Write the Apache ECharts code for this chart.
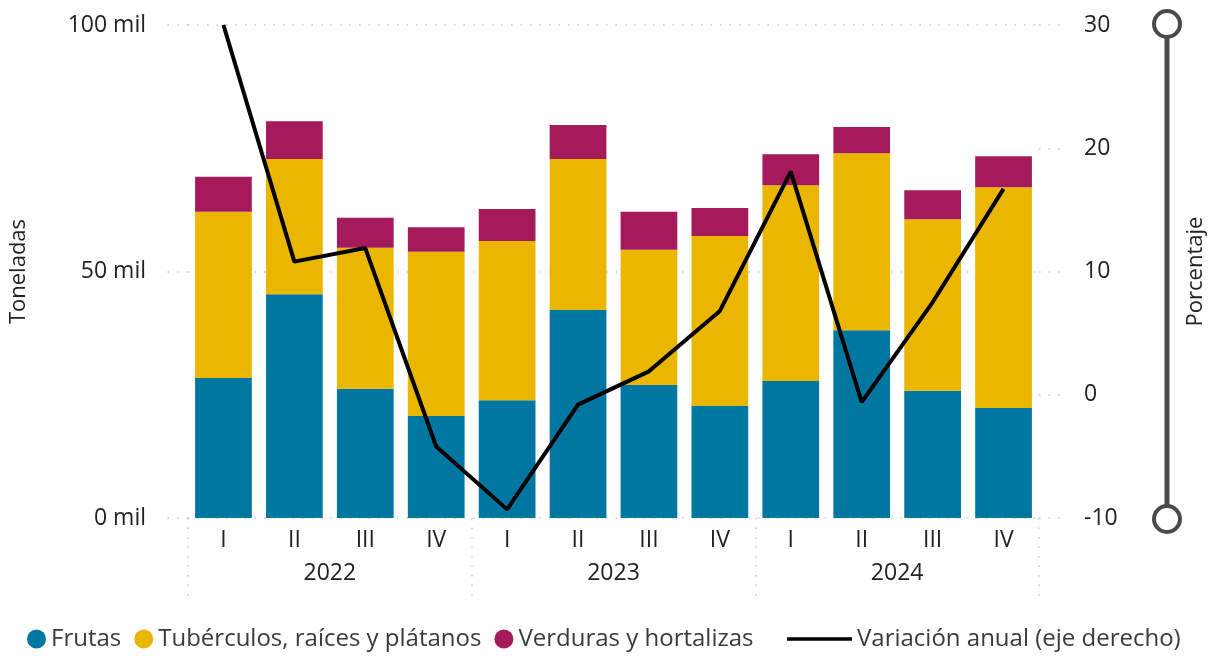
<!DOCTYPE html>
<html>
<head>
<meta charset="utf-8">
<script src="https://cdn.jsdelivr.net/npm/echarts@6/dist/echarts.min.js"></script>
<style>
  html, body { margin: 0; padding: 0; background: #fff; }
  #chart { width: 1215px; height: 656px; }
</style>
</head>
<body>
<div id="chart"></div>
<script>
// datos (miles de toneladas / porcentaje)
var quarters = ['I', 'II', 'III', 'IV', 'I', 'II', 'III', 'IV', 'I', 'II', 'III', 'IV'];
var years = ['2022', '2023', '2024'];
var frutas = [28.4, 45.4, 26.2, 20.7, 23.9, 42.2, 27.0, 22.7, 27.8, 38.1, 25.8, 22.3];
var tuberculos = [33.7, 27.4, 28.6, 33.3, 32.3, 30.6, 27.4, 34.5, 39.7, 35.9, 34.8, 44.8];
var verduras = [7.1, 7.7, 6.1, 5.0, 6.5, 6.9, 7.7, 5.7, 6.3, 5.3, 5.9, 6.3];
var variacion = [30.0, 10.8, 11.9, -4.2, -9.3, -0.8, 1.9, 6.8, 18.1, -0.6, 7.5, 16.7];

var font = '"Open Sans", "Noto Sans", sans-serif';
var dotted = { color: '#c8c8c8', width: 1.5, type: [1.5, 8] };
var lbl = { fontSize: 23, color: '#222', fontFamily: font };

var chart = echarts.init(document.getElementById('chart'));

// slider decorativo del eje derecho
var sliderX = 1167;

var option = {
  animation: false,
  textStyle: { fontFamily: font },
  grid: { left: 185, right: 170, top: 25, bottom: 138 },
  legend: [
    {
      left: 22, top: 622,
      icon: 'circle', itemWidth: 19, itemHeight: 19, itemGap: 13,
      textStyle: { fontSize: 24, color: '#3a3a3a', fontFamily: font },
      data: ['Frutas', 'Tubérculos, raíces y plátanos', 'Verduras y hortalizas']
    },
    {
      left: 782, top: 622,
      itemWidth: 65, itemHeight: 19,
      textStyle: { fontSize: 24, color: '#3a3a3a', fontFamily: font },
      data: [{ name: 'Variación anual (eje derecho)', icon: 'path://M0,8L65,8L65,11.5L0,11.5Z' }]
    }
  ],
  xAxis: [
    {
      type: 'category', data: quarters,
      axisLine: { show: false, onZero: false }, axisTick: { show: false },
      axisLabel: Object.assign({ margin: 11 }, lbl)
    },
    {
      type: 'category', data: years, position: 'bottom',
      axisLine: { show: false, onZero: false },
      axisTick: { show: true, length: 84, lineStyle: dotted },
      axisLabel: Object.assign({ margin: 44 }, lbl)
    }
  ],
  yAxis: [
    {
      type: 'value', min: 0, max: 100, interval: 50,
      name: 'Toneladas', nameLocation: 'middle', nameGap: 158, nameRotate: 90,
      nameTextStyle: { fontSize: 22, color: '#222', fontFamily: font },
      axisLine: { show: false },
      axisTick: { show: true, length: 22, lineStyle: dotted },
      axisLabel: Object.assign({ margin: 42, formatter: '{value} mil' }, lbl),
      splitLine: { show: true, lineStyle: dotted }
    },
    {
      type: 'value', min: -10, max: 30, interval: 10, position: 'right',
      name: 'Porcentaje', nameLocation: 'middle', nameGap: 146, nameRotate: 90,
      nameTextStyle: { fontSize: 22, color: '#222', fontFamily: font },
      axisLine: { show: false },
      axisTick: { show: true, length: 22, lineStyle: dotted },
      axisLabel: Object.assign({ margin: 45 }, lbl),
      splitLine: { show: false }
    }
  ],
  series: [
    {
      name: 'Frutas', type: 'bar', stack: 'total', data: frutas,
      barCategoryGap: '20%', itemStyle: { color: '#0077A1' }
    },
    {
      name: 'Tubérculos, raíces y plátanos', type: 'bar', stack: 'total', data: tuberculos,
      itemStyle: { color: '#EBB600' }
    },
    {
      name: 'Verduras y hortalizas', type: 'bar', stack: 'total', data: verduras,
      itemStyle: { color: '#A41A5A' }
    },
    {
      name: 'Variación anual (eje derecho)', type: 'line', yAxisIndex: 1, data: variacion,
      showSymbol: false, symbol: 'none', z: 5,
      lineStyle: { color: '#000', width: 4 }, itemStyle: { color: '#000' }
    }
  ],
  graphic: [
    {
      type: 'line', z: 10,
      shape: { x1: sliderX, y1: 37, x2: sliderX, y2: 506 },
      style: { stroke: '#4a4a4a', lineWidth: 5 }
    },
    {
      type: 'circle', z: 11,
      shape: { cx: sliderX, cy: 24, r: 13 },
      style: { fill: '#fff', stroke: '#4a4a4a', lineWidth: 4 }
    },
    {
      type: 'circle', z: 11,
      shape: { cx: sliderX, cy: 519, r: 13 },
      style: { fill: '#fff', stroke: '#4a4a4a', lineWidth: 4 }
    }
  ]
};

chart.setOption(option);
</script>
</body>
</html>
